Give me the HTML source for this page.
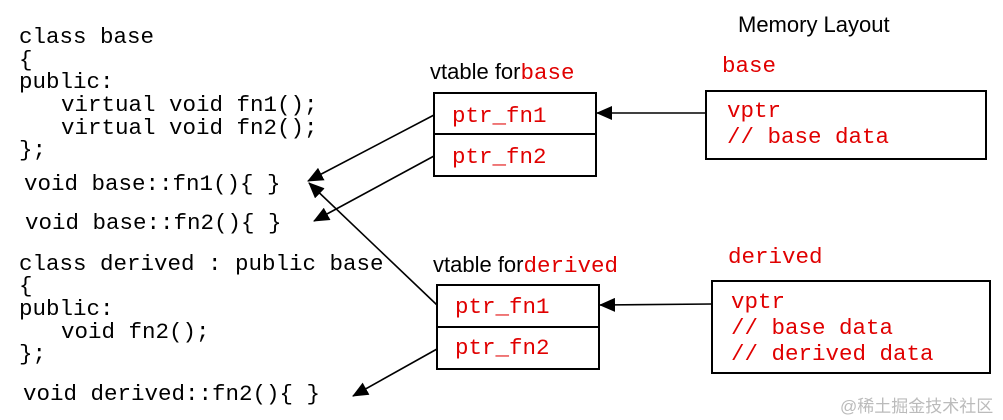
<!DOCTYPE html>
<html><head><meta charset="utf-8"><style>
body{margin:0;background:#fff}
svg{display:block}
.m{font-family:"Liberation Mono",monospace;font-size:22.5px}
.s{font-family:"Liberation Sans",sans-serif;font-size:22px}
.r{fill:#e00000}
</style></head><body>
<svg width="1003" height="420" viewBox="0 0 1003 420" xmlns="http://www.w3.org/2000/svg">
<defs>
<marker id="b" markerWidth="16" markerHeight="14" refX="15" refY="7" orient="auto" markerUnits="userSpaceOnUse"><path d="M0,0 L16,7 L0,14 z" fill="#000"/></marker></defs>
<g class="m" fill="#000">
<text x="19" y="43">class base</text>
<text x="19" y="66">{</text>
<text x="19" y="88">public:</text>
<text x="61" y="111">virtual void fn1();</text>
<text x="61" y="134">virtual void fn2();</text>
<text x="19" y="156">};</text>
<text x="24" y="190">void base::fn1(){ }</text>
<text x="25" y="229">void base::fn2(){ }</text>
<text x="19" y="270">class derived : public base</text>
<text x="19" y="292">{</text>
<text x="19" y="315">public:</text>
<text x="61" y="338">void fn2();</text>
<text x="19" y="360">};</text>
<text x="23" y="400">void derived::fn2(){ }</text>
</g>
<text class="s" x="738" y="32">Memory Layout</text>
<text x="430" y="79"><tspan class="s">vtable for</tspan><tspan class="m r">base</tspan></text>
<text x="433" y="272"><tspan class="s">vtable for</tspan><tspan class="m r">derived</tspan></text>
<text class="m r" x="722" y="72">base</text>
<text class="m r" x="728" y="263">derived</text>
<g fill="none" stroke="#000" stroke-width="2">
<rect x="434" y="93" width="162" height="83"/><line x1="434" y1="134" x2="596" y2="134"/>
<rect x="437" y="285" width="162" height="84"/><line x1="437" y1="327" x2="599" y2="327"/>
<rect x="706" y="91" width="280" height="68"/>
<rect x="712" y="281" width="278" height="92"/>
</g>
<g class="m r">
<text x="452" y="122">ptr_fn1</text><text x="452" y="163">ptr_fn2</text>
<text x="455" y="313">ptr_fn1</text><text x="455" y="354">ptr_fn2</text>
<text x="727" y="117">vptr</text><text x="727" y="143">// base data</text>
<text x="731" y="308">vptr</text><text x="731" y="334">// base data</text><text x="731" y="360">// derived data</text>
</g>
<g stroke="#000" stroke-width="1.6" fill="none">
<line x1="434" y1="115" x2="308" y2="181" marker-end="url(#b)"/>
<line x1="434" y1="156" x2="314" y2="221" marker-end="url(#b)"/>
<line x1="437" y1="305" x2="309" y2="183" marker-end="url(#b)"/>
<line x1="437" y1="349" x2="353" y2="396" marker-end="url(#b)"/>
<line x1="706" y1="113" x2="597" y2="113" marker-end="url(#b)"/>
<line x1="712" y1="304" x2="600" y2="305" marker-end="url(#b)"/>
</g>
<text x="840" y="412" fill="#bbb" font-family="'Liberation Sans','Noto Sans CJK SC',sans-serif" font-size="17">@稀土掘金技术社区</text>
</svg>
</body></html>
